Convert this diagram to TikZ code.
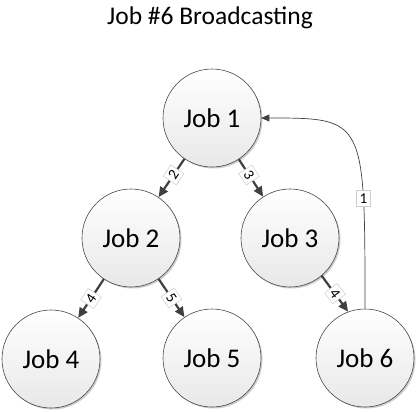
\documentclass[tikz,border=0pt]{standalone}
\usepackage{fontspec}
\setmainfont{Carlito}
\usetikzlibrary{positioning,arrows.meta,shadows}
\definecolor{jLine}{RGB}{70,70,70}
\definecolor{jEdge}{RGB}{64,64,64}
\definecolor{jBox}{RGB}{205,205,205}
\tikzset{
  job/.style={circle, draw=jLine, line width=0.6bp, top color=white,
              bottom color=black!9, minimum size=98bp, inner sep=0pt,
              font=\fontsize{27bp}{31bp}\selectfont,
              drop shadow={shadow xshift=1.5bp, shadow yshift=-1.5bp,
                           fill=black!40, opacity=.5}},
  flow/.style={-{Triangle[length=10bp,width=9bp]}, draw=jEdge, line width=2.2bp},
  back/.style={-{Triangle[length=8bp,width=7bp]}, draw=jEdge, line width=0.7bp},
  lbl/.style={draw=jBox, fill=white, line width=0.5bp, inner sep=3bp,
              font=\fontsize{15bp}{17bp}\selectfont},
  lbls/.style={lbl, sloped},
}
\begin{document}
\begin{tikzpicture}[x=1bp, y=-1bp, node distance=120bp and 80bp, on grid]
  \useasboundingbox (0,0) rectangle (420,412);
  \node[font=\fontsize{25.5bp}{30bp}\selectfont] (title) at (210,18) {Job \#6 Broadcasting};
  % the tree
  \node[job] (j1) at (212,118) {Job 1};
  \node[job, below left=120bp and 81bp of j1]  (j2) {Job 2};
  \node[job, below right=120bp and 78bp of j1] (j3) {Job 3};
  \node[job, below left=121bp and 80bp of j2]  (j4) {Job 4};
  \node[job, below right=120bp and 81bp of j2] (j5) {Job 5};
  \node[job, below right=120bp and 75bp of j3] (j6) {Job 6};
  \draw[flow] (j1) -- node[lbls, pos=0.42]{2} (j2);
  \draw[flow] (j1) -- node[lbls, pos=0.42]{3} (j3);
  \draw[flow] (j2) -- node[lbls]{4} (j4);
  \draw[flow] (j2) -- node[lbls]{5} (j5);
  \draw[flow] (j3.-50) -- node[lbls]{4} (j6.110);
  % broadcast back to the root
  \draw[back] (j6.north) .. controls (j6.north |- j1.east) .. node[lbl, pos=0.25]{1} (j1.east);
\end{tikzpicture}
\end{document}
